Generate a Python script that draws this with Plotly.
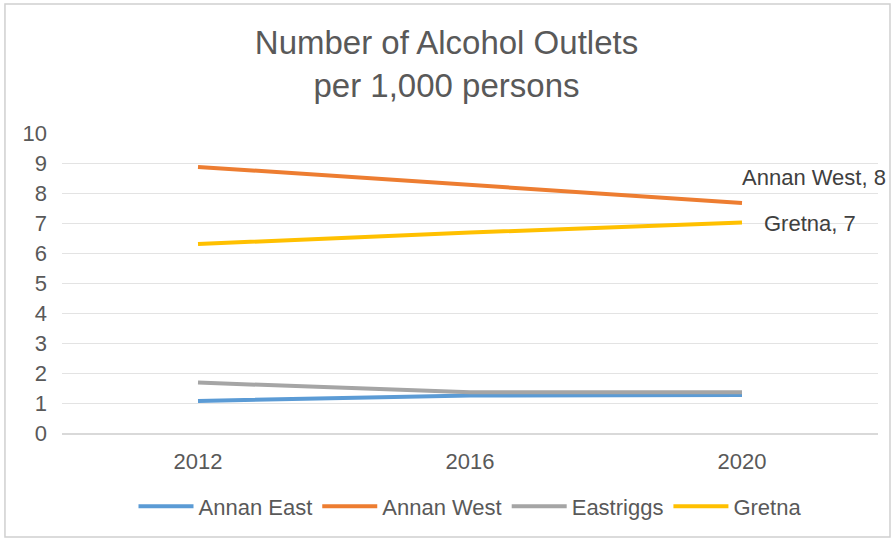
import plotly.graph_objects as go

years = ["2012", "2016", "2020"]
series_names = ["Annan East", "Annan West", "Eastriggs", "Gretna"]
annan_east = [1.07, 1.25, 1.27]
annan_west = [8.87, 8.27, 7.67]
eastriggs = [1.68, 1.36, 1.36]
gretna = [6.3, 6.68, 7.02]
colors = ["#5B9BD5", "#ED7D31", "#A5A5A5", "#FFC000"]
y_ticks = list(range(0, 11))

values = [annan_east, annan_west, eastriggs, gretna]
font = "Liberation Sans, Arial, sans-serif"
grey = "#595959"

fig = go.Figure()
for name, vals, col in zip(series_names, values, colors):
    fig.add_trace(go.Scatter(x=years, y=vals, name=name, mode="lines",
                             line=dict(color=col, width=4)))

# data labels on last points (x given as category index)
last = len(years) - 1
fig.add_annotation(x=last, y=annan_west[last], text=f"Annan West, {round(annan_west[last])}",
                   showarrow=False, xanchor="left", yanchor="middle", xshift=-2, yshift=25,
                   font=dict(size=22, color="#404040", family=font))
fig.add_annotation(x=last, y=gretna[last], text=f"Gretna, {round(gretna[last])}",
                   showarrow=False, xanchor="left", yanchor="middle", xshift=20, yshift=-1,
                   font=dict(size=22, color="#404040", family=font))

fig.add_shape(type="rect", xref="paper", yref="paper",
              x0=-0.0699, x1=1.0147, y0=-0.347, y1=1.43,
              line=dict(color="#D0D0D0", width=1.5), fillcolor="rgba(0,0,0,0)")

fig.update_layout(
    width=893, height=541,
    margin=dict(l=62, r=15, t=133, b=108),
    paper_bgcolor="white", plot_bgcolor="white",
    font=dict(family=font, color=grey, size=22),
    title=dict(text="Number of Alcohol Outlets<br>per 1,000 persons",
               x=0.5, xanchor="center", y=0.90, yanchor="middle",
               font=dict(size=33, color=grey, family=font)),
    xaxis=dict(type="category", range=[-0.5, 2.5], showgrid=False,
               showline=True, linecolor="#D9D9D9", linewidth=1.5,
               ticks="", ticklabelstandoff=8, tickfont=dict(size=22, color=grey)),
    yaxis=dict(range=[0, 10], tickvals=y_ticks, showgrid=True, gridcolor="#E3E3E3",
               gridwidth=1, zeroline=False, showline=False, ticks="",
               ticklabelstandoff=14, tickfont=dict(size=22, color=grey)),
    legend=dict(orientation="h", x=0.5, xanchor="center", y=-0.245, yanchor="middle",
                font=dict(size=22, color=grey), itemwidth=55, tracegroupgap=0),
    showlegend=True,
)

fig.write_html("out.html", post_script="document.body.style.margin='0';",
               config={"displayModeBar": False})
